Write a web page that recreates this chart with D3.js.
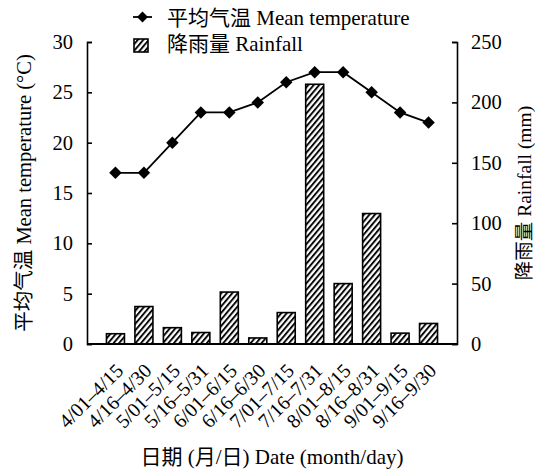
<!DOCTYPE html>
<html><head><meta charset="utf-8">
<script src="https://cdn.jsdelivr.net/npm/d3@7"></script>
<style>
body{margin:0;background:#fff;}
svg text{font-family:"Liberation Serif","DejaVu Serif","Noto Sans CJK SC",serif !important;fill:#000;}
</style></head>
<body><svg id="c" width="535" height="471"></svg>
<script>
const categories = ["4/01\u20134/15","4/16\u20134/30","5/01\u20135/15","5/16\u20135/31","6/01\u20136/15","6/16\u20136/30","7/01\u20137/15","7/16\u20137/31","8/01\u20138/15","8/16\u20138/31","9/01\u20139/15","9/16\u20139/30"];
const temperature = [17,17,20,23,23,24,26,27,27,25,23,22];
const rainfall = [8.5,31,13.5,9.5,43,5,26,215,50,108,9,17];
const tempTicks = [0,5,10,15,20,25,30];
const rainTicks = [0,50,100,150,200,250];

const FONT = "'Liberation Serif','DejaVu Serif','Noto Sans CJK SC',serif";
const svg = d3.select("#c");
const L=87, R=457, T=42, B=344;
const x = d3.scalePoint().domain(categories).range([L,R]).padding(1);
const yT = d3.scaleLinear().domain([0,30]).range([B,T]);
const yR = d3.scaleLinear().domain([0,250]).range([B,T]);
const barW = 18;

const defs = svg.append("defs");
const pat = defs.append("pattern").attr("id","hatch").attr("patternUnits","userSpaceOnUse")
  .attr("width",4.2).attr("height",4.2).attr("patternTransform","rotate(40)");
pat.append("rect").attr("width",4.2).attr("height",4.2).attr("fill","#fff");
pat.append("line").attr("x1",1).attr("y1",0).attr("x2",1).attr("y2",4.2).attr("stroke","#000").attr("stroke-width",1.9);

// bars
svg.append("g").selectAll("rect").data(rainfall).join("rect")
  .attr("x",(d,i)=>x(categories[i])-barW/2).attr("width",barW)
  .attr("y",d=>yR(d)).attr("height",d=>B-yR(d))
  .attr("fill","url(#hatch)").attr("stroke","#000").attr("stroke-width",1.6);

// line
const line = d3.line().x((d,i)=>x(categories[i])).y(d=>yT(d));
svg.append("path").datum(temperature).attr("d",line).attr("fill","none").attr("stroke","#000").attr("stroke-width",1.8);
const sym = d3.symbol().type(d3.symbolSquare).size(78);
svg.append("g").selectAll("path").data(temperature).join("path")
  .attr("d",sym).attr("transform",(d,i)=>`translate(${x(categories[i])},${yT(d)}) rotate(45)`).attr("fill","#000");

// axes
const axL = d3.axisLeft(yT).tickValues(tempTicks).tickSizeInner(-5).tickSizeOuter(-5).tickPadding(14);
const axR = d3.axisRight(yR).tickValues(rainTicks).tickSizeInner(-5).tickSizeOuter(-5).tickPadding(14);
const gL = svg.append("g").attr("transform",`translate(${L},0)`).call(axL);
const gR = svg.append("g").attr("transform",`translate(${R},0)`).call(axR);
[gL,gR].forEach(g=>{
  g.attr("font-family",FONT);
  g.selectAll("path,line").attr("stroke","#000").attr("stroke-width",1.6);
  g.selectAll("text").attr("font-size",20.5).attr("font-family",FONT);
});
svg.append("line").attr("x1",L).attr("x2",R).attr("y1",B).attr("y2",B).attr("stroke","#000").attr("stroke-width",1.8);

// x labels
svg.append("g").selectAll("text").data(categories).join("text")
  .attr("transform",d=>`translate(${x(d)+9},${372}) rotate(-45)`)
  .attr("text-anchor","end").attr("font-size",20).attr("font-family",FONT).text(d=>d);

// axis titles
svg.append("text").attr("x",(L+R)/2).attr("y",464).attr("text-anchor","middle").attr("font-size",21).attr("font-family",FONT).text("日期 (月/日) Date (month/day)");
svg.append("text").attr("transform",`translate(31,${(T+B)/2}) rotate(-90)`).attr("text-anchor","middle").attr("font-size",20.5).attr("font-family",FONT).text("平均气温 Mean temperature (°C)");
svg.append("text").attr("transform",`translate(531,${(T+B)/2}) rotate(-90)`).attr("text-anchor","middle").attr("font-size",19.5).attr("font-family",FONT).text("降雨量 Rainfall (mm)");

// legend
const lg = svg.append("g");
lg.append("line").attr("x1",133).attr("x2",152).attr("y1",17).attr("y2",17).attr("stroke","#000").attr("stroke-width",1.8);
lg.append("path").attr("d",d3.symbol().type(d3.symbolSquare).size(60)).attr("transform","translate(142.5,17) rotate(45)");
lg.append("text").attr("x",167).attr("y",25).attr("font-size",21).attr("font-family",FONT).text("平均气温 Mean temperature");
lg.append("rect").attr("x",134).attr("y",39).attr("width",14).attr("height",13).attr("fill","url(#hatch)").attr("stroke","#000").attr("stroke-width",1.6);
lg.append("text").attr("x",167).attr("y",51).attr("font-size",21).attr("font-family",FONT).text("降雨量 Rainfall");
</script></body></html>
